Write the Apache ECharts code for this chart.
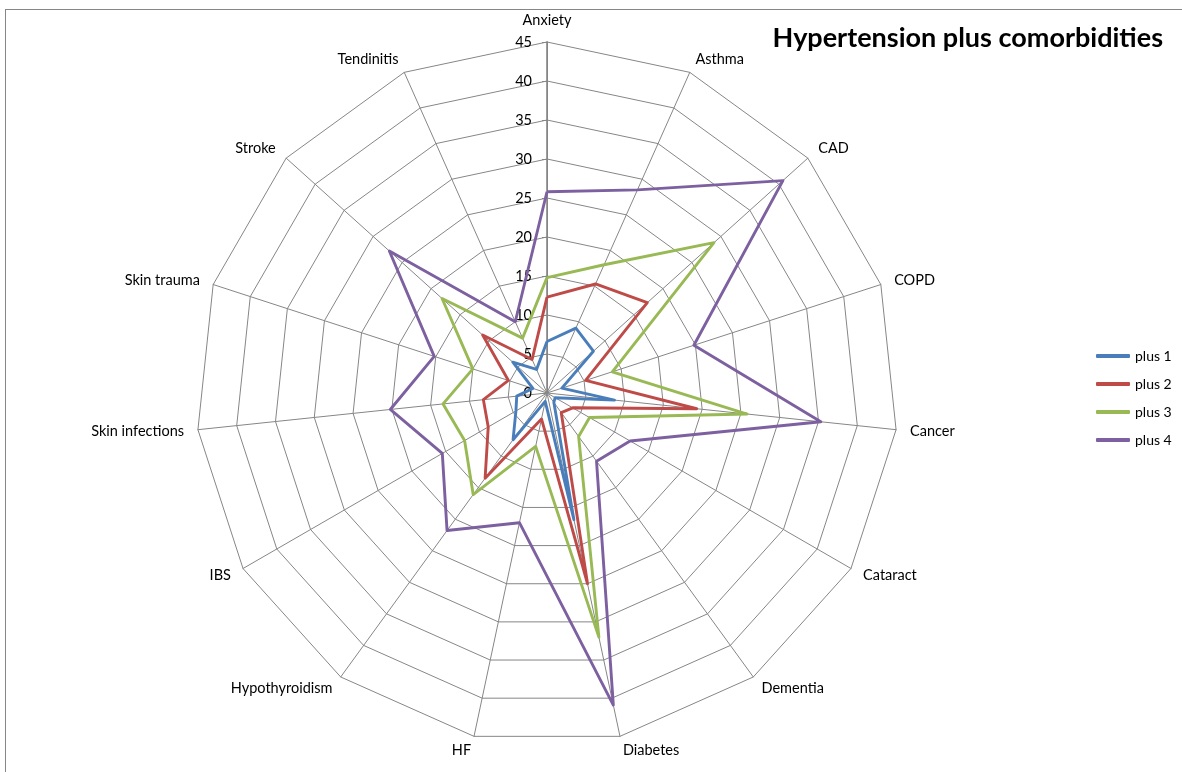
<!DOCTYPE html>
<html><head><meta charset="utf-8">
<script src="https://cdn.jsdelivr.net/npm/echarts@6/dist/echarts.min.js"></script>
<style>
html,body{margin:0;padding:0;background:#fff;overflow:hidden;}
#frame{position:absolute;left:5px;top:9px;width:1400px;height:1000px;border-left:1px solid #868686;border-top:1px solid #868686;}
#chart{position:absolute;left:0;top:0;width:1182px;height:772px;}
</style></head><body>
<div id="frame"></div>
<div id="chart"></div>
<script>
const categories = ['Anxiety','Asthma','CAD','COPD','Cancer','Cataract','Dementia','Diabetes','HF','Hypothyroidism','IBS','Skin infections','Skin trauma','Stroke','Tendinitis'];
const seriesNames = ['plus 1','plus 2','plus 3','plus 4'];
const plus1 = [6.6, 9.1, 8.0, 2.0, 8.7, 1.2, 1.5, 16.6, 1.1, 7.4, 4.6, 3.9, 1.9, 5.9, 3.3];
const plus2 = [12.3, 15.3, 17.3, 5.2, 19.3, 3.8, 3.1, 25.0, 3.4, 13.5, 8.7, 8.2, 5.2, 11.1, 4.7];
const plus3 = [14.8, 18.0, 28.8, 8.8, 25.8, 6.3, 6.9, 32.0, 7.0, 16.1, 12.2, 13.4, 10.0, 18.1, 7.7];
const plus4 = [25.8, 28.5, 40.7, 19.8, 35.3, 12.3, 10.8, 40.9, 17.0, 21.8, 15.5, 20.2, 15.2, 27.2, 10.0];
const axisMin = 0, axisMax = 45, axisInterval = 5;
const colors = ['#4A7EBB', '#BE4B48', '#98B954', '#7D60A0'];
const titleText = 'Hypertension plus comorbidities';

// ECharts places radar indicators counter-clockwise; reorder so they read clockwise from the top
const order = [0].concat(categories.map((c, i) => i).slice(1).reverse());
const allSeries = [plus1, plus2, plus3, plus4];
const FONT = 'Lato';

const chart = echarts.init(document.getElementById('chart'), null, {renderer: 'canvas'});
chart.setOption({
  animation: false,
  backgroundColor: 'transparent',
  title: {
    text: titleText, right: 14, top: 20,
    textStyle: {fontFamily: FONT, fontWeight: 'bold', fontSize: 27, color: '#000'}
  },
  legend: {
    orient: 'vertical', left: 1091, top: 344,
    itemWidth: 34, itemHeight: 4, itemGap: 14, icon: 'roundRect',
    textStyle: {fontFamily: FONT, fontSize: 14, color: '#000'},
    data: seriesNames
  },
  radar: {
    center: [547, 393], radius: 351, startAngle: 90, shape: 'polygon',
    splitNumber: (axisMax - axisMin) / axisInterval,
    indicator: order.map(i => ({name: categories[i], min: axisMin, max: axisMax})),
    nameGap: 14,
    axisName: {color: '#000', fontFamily: FONT, fontSize: 14.5},
    splitLine: {lineStyle: {color: '#868686', width: 1}},
    splitArea: {show: false},
    axisLine: {lineStyle: {color: '#868686', width: 1}},
    axisTick: {show: false},
    axisLabel: {show: false}
  },
  polar: {center: [547, 393], radius: 351},
  angleAxis: {show: false, startAngle: 90, min: 0, max: 360},
  radiusAxis: {
    min: axisMin, max: axisMax, interval: axisInterval, z: 1,
    axisLine: {lineStyle: {color: '#868686', width: 1.6}},
    axisTick: {show: true, length: 5, lineStyle: {color: '#868686'}},
    axisLabel: {fontFamily: FONT, fontSize: 14.5, color: '#000', margin: 15},
    splitLine: {show: false}
  },
  series: [{
    type: 'radar', z: 5,
    symbol: 'none',
    data: allSeries.map((vals, k) => ({
      name: seriesNames[k],
      value: order.map(i => vals[i]),
      lineStyle: {color: colors[k], width: 2.9},
      itemStyle: {color: colors[k]}
    }))
  }],
  color: colors
});
</script>
</body></html>
